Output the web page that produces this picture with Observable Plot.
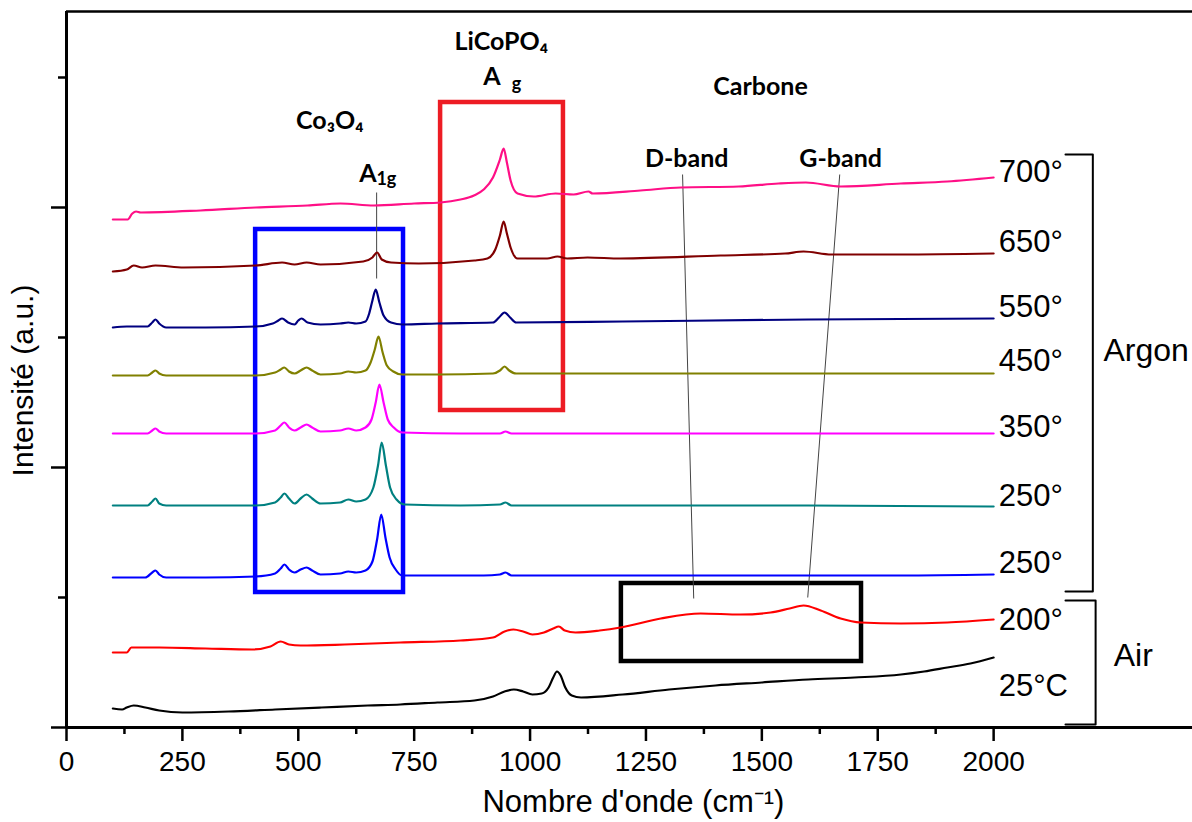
<!DOCTYPE html>
<html><head><meta charset="utf-8">
<script src="https://cdn.jsdelivr.net/npm/d3@7"></script>
<script src="https://cdn.jsdelivr.net/npm/@observablehq/plot@0.6"></script>
<style>body{margin:0;background:#fff}</style>
</head><body><div id="chart"></div>
<script>
// Raman spectra (wavenumber cm-1, stacked intensity a.u.)
const s25C = [[100,19],[120,18],[130,20],[145,22],[170,20],[200,17],[250,15],[350,16],[450,18],[550,20],[650,22],[720,23],[800,25],[880,27],[920,31],[945,36],[965,38],[985,36],[1005,33],[1025,34],[1040,40],[1050,50],[1058,56],[1066,52],[1076,40],[1090,32],[1110,30],[1200,33],[1300,38],[1400,42],[1500,45],[1600,48],[1700,50],[1800,53],[1850,56],[1900,60],[1950,64],[2000,70]];
const s200 = [[100,75],[130,75],[140,80],[200,80],[300,79],[400,78],[440,81],[462,86],[480,83],[505,82],[600,83],[720,85],[850,87],[920,90],[945,96],[964,98],[985,96],[1005,93],[1030,95],[1050,99],[1062,101],[1075,97],[1098,95],[1150,97],[1195,100],[1282,109],[1368,114],[1454,113],[1519,115],[1560,119],[1590,122],[1627,117],[1670,109],[1713,105],[1800,104],[1900,105],[2000,108]];
const s250a = [[100,150],[170,150],[185,155],[192,157],[200,153],[215,150],[300,150],[408,151],[450,154],[462,159],[470,163],[480,158],[492,155],[505,158],[518,160],[530,157],[548,153],[590,154],[608,156],[625,155],[645,157],[660,166],[670,188],[679,213],[688,190],[697,170],[710,158],[724,152],[800,152],[900,152],[935,153],[947,155],[960,152],[1200,152],[1500,152],[1800,152],[2000,153]];
const s250b = [[100,222],[175,222],[185,226],[192,229],[200,224],[215,222],[300,222],[408,222],[450,225],[462,230],[470,234],[480,229],[492,224],[505,229],[518,233],[530,229],[548,224],[590,225],[608,228],[625,226],[645,228],[662,240],[672,262],[680,285],[689,262],[698,240],[712,228],[730,223],[850,222],[935,223],[947,225],[960,222],[1200,222],[1600,222],[2000,221]];
const s350 = [[100,294],[175,294],[185,297],[192,299],[200,296],[215,294],[300,294],[408,294],[450,297],[462,302],[470,305],[480,300],[492,297],[505,300],[518,303],[530,300],[548,296],[590,297],[608,299],[625,297],[645,300],[658,308],[667,325],[675,343],[684,325],[693,308],[706,300],[724,295],[850,294],[935,294],[947,296],[960,294],[1200,294],[1600,294],[2000,294]];
const s450 = [[100,352],[175,352],[185,355],[192,357],[200,354],[215,352],[300,352],[408,352],[450,355],[462,358],[470,360],[480,356],[492,354],[505,357],[518,360],[530,357],[548,353],[590,354],[608,356],[625,355],[645,357],[656,365],[665,378],[673,391],[682,375],[691,362],[705,356],[724,353],[800,353],[920,354],[935,357],[945,361],[955,357],[970,354],[1200,354],[1600,354],[2000,354]];
const s550 = [[100,400],[130,401],[175,401],[185,405],[192,408],[200,404],[215,400],[300,400],[408,401],[445,404],[457,407],[465,409],[478,405],[492,403],[500,407],[507,409],[520,405],[548,403],[590,404],[608,405],[625,404],[645,406],[653,414],[660,427],[667,438],[675,425],[684,412],[700,405],[725,403],[800,404],[920,405],[933,410],[945,415],[957,410],[970,405],[1200,406],[1600,408],[2000,409]];
const s650 = [[100,456],[130,458],[145,462],[163,460],[192,462],[253,460],[408,462],[465,465],[492,463],[518,465],[548,463],[640,466],[660,470],[670,475],[680,468],[700,465],[760,464],[880,467],[908,469],[925,478],[935,492],[943,506],[950,494],[958,480],[973,469],[1037,469],[1059,471],[1080,469],[1124,470],[1195,469],[1411,472],[1550,474],[1590,476],[1650,473],[1800,473],[2000,474]];
const s700 = [[100,508],[132,508],[142,514],[150,516],[160,515],[289,517],[408,520],[520,522],[591,524],[663,522],[750,524],[807,525],[850,528],[879,532],[900,538],[920,550],[935,568],[943,579],[950,565],[958,547],[973,534],[1008,531],[1055,534],[1094,533],[1126,536],[1135,534],[1238,537],[1325,540],[1450,541],[1536,544],[1595,545],[1670,541],[1800,544],[1900,546],[2000,550]];

const seriesNames = ["700°","650°","550°","450°","350°","250°","250° ","200°","25°C"];
const seriesData = [s700, s650, s550, s450, s350, s250b, s250a, s200, s25C];
const seriesColors = ["#ff0f86","#800000","#000080","#808000","#ff00ff","#008080","#0000ff","#ff0000","#000000"];
const labelY = [555,485,420,366,300,231,164,107,41];

const xMajor = [0,250,500,750,1000,1250,1500,1750,2000];
const xMinor = [125,375,625,875,1125,1375,1625,1875];
const yMajor = [0,260,520];
const yMinor = [130,390,650];

const rows = seriesData.flatMap((s, i) => s.map(([x, y]) => ({x, y, name: seriesNames[i], color: seriesColors[i]})));
const labels = seriesNames.map((n, i) => ({text: n.trim(), y: labelY[i]}));

const boxes = [
  {x1: 408, x2: 727, y1: 135, y2: 498, c: "#0000ff"},
  {x1: 807, x2: 1072, y1: 317, y2: 625, c: "#ed1c24"},
  {x1: 1197, x2: 1715, y1: 66, y2: 144, c: "#000000"}
];
const leaders = [
  {x1: 669, y1: 535, x2: 669, y2: 449},
  {x1: 1329, y1: 553, x2: 1353, y2: 129},
  {x1: 1668, y1: 553, x2: 1599, y2: 130}
];
const annot = [
  {x: 568, y: 607, t: "Co₃O₄"},
  {x: 650, y: 554, t: "A"},
  {x: 938, y: 686, t: "LiCoPO₄"},
  {x: 918, y: 651, t: "A"},
  {x: 1497, y: 641, t: "Carbone"},
  {x: 1338, y: 569, t: "D-band"},
  {x: 1670, y: 569, t: "G-band"}
];
const subs = [
  {x: 690, y: 548, t: "1g"},
  {x: 971, y: 643, t: "g"}
];
const argonBracket = [[2155,573],[2214,573],[2214,136],[2155,136]];
const airBracket = [[2155,127],[2220,127],[2220,3],[2155,3]];

const ann = "Lato, 'Open Sans', sans-serif";
const ar = "'Liberation Sans', Arial, sans-serif";

const chart = Plot.plot({
  width: 1192, height: 822,
  marginLeft: 66, marginRight: 0, marginTop: 11, marginBottom: 95,
  x: {domain: [0, 2429]},
  y: {domain: [0, 716]},
  style: {fontFamily: ar, background: "#fff", overflow: "visible", color: "#000"},
  marks: [
    Plot.rect(boxes, {x1: "x1", x2: "x2", y1: "y1", y2: "y2", fill: "none", stroke: "c", strokeWidth: 4.5}),
    Plot.link(leaders, {x1: "x1", y1: "y1", x2: "x2", y2: "y2", stroke: "#444", strokeWidth: 1}),
    Plot.line(rows, {x: "x", y: "y", z: "name", stroke: "color", strokeWidth: 2.2, curve: "monotone-x"}),
    Plot.ruleX([0], {strokeWidth: 3}),
    Plot.ruleY([0], {strokeWidth: 3}),
    Plot.ruleY([716], {strokeWidth: 2.5}),
    Plot.axisX(xMajor, {tickSize: 14, tickPadding: 10, fontSize: 28, fontFamily: ar, tickFormat: d => String(d), strokeWidth: 2.5, label: null}),
    Plot.axisX(xMinor, {tickSize: 7, tickFormat: () => "", strokeWidth: 2.5, label: null}),
    Plot.axisY(yMajor, {tickSize: 15, tickFormat: () => "", strokeWidth: 2.5, label: null}),
    Plot.axisY(yMinor, {tickSize: 8, tickFormat: () => "", strokeWidth: 2.5, label: null}),
    Plot.text(labels, {x: 2011, y: "y", text: "text", textAnchor: "start", fontSize: 31, fontFamily: ar}),
    Plot.line(argonBracket, {x: d => d[0], y: d => d[1], strokeWidth: 2}),
    Plot.line(airBracket, {x: d => d[0], y: d => d[1], strokeWidth: 2}),
    Plot.text(["Argon"], {x: 2237, y: 377, textAnchor: "start", fontSize: 32, fontFamily: ar}),
    Plot.text(["Air"], {x: 2259, y: 72, textAnchor: "start", fontSize: 32, fontFamily: ar}),
    Plot.text(annot, {x: "x", y: "y", text: "t", fontSize: 25, fontWeight: "bold", fontFamily: ann}),
    Plot.text(subs, {x: "x", y: "y", text: "t", fontSize: 18, fontWeight: "bold", fontFamily: ann}),
    Plot.text(["Intensité (a.u.)"], {x: -92, y: 347, rotate: -90, fontSize: 30, fontFamily: ar}),
    Plot.text(["Nombre d'onde (cm⁻¹)"], {x: 1223, y: -75, fontSize: 31, fontFamily: ar})
  ]
});
document.getElementById("chart").appendChild(chart);
</script>
</body></html>
